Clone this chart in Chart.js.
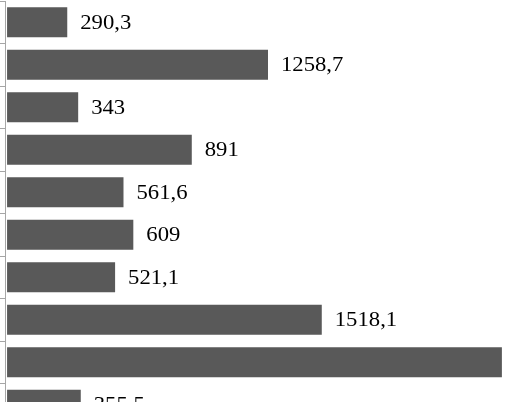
<!DOCTYPE html>
<html>
<head>
<meta charset="utf-8">
<script src="https://cdn.jsdelivr.net/npm/chart.js@4/dist/chart.umd.min.js"></script>
<style>
  html, body { margin: 0; padding: 0; background: #fff; overflow: hidden; }
  #wrap { width: 505px; height: 402px; overflow: hidden; }
</style>
</head>
<body>
<div id="wrap"><canvas id="myChart" width="505" height="426"></canvas></div>
<script>
// rows from top to bottom
const categories = ['1', '2', '3', '4', '5', '6', '7', '8', '9', '10'];
const values = [290.3, 1258.7, 343, 891, 561.6, 609, 521.1, 1518.1, 2387, 355.5];

const labelPlugin = {
    id: 'valueLabels',
    afterDatasetsDraw(chart) {
        const ctx = chart.ctx;
        const meta = chart.getDatasetMeta(0);
        ctx.save();
        ctx.fillStyle = '#000';
        ctx.font = '21px "Liberation Serif", "Times New Roman", serif';
        ctx.textBaseline = 'middle';
        meta.data.forEach((bar, i) => {
            const txt = String(values[i]).replace('.', ',');
            ctx.save();
            ctx.translate(bar.x + 13, bar.y + 1);
            ctx.scale(1.08, 1);
            ctx.fillText(txt, 0, 0);
            ctx.restore();
        });
        ctx.restore();
    }
};

const ctx = document.getElementById('myChart').getContext('2d');
new Chart(ctx, {
    type: 'bar',
    data: {
        labels: categories,
        datasets: [{
            data: values,
            backgroundColor: '#595959',
            borderWidth: 0,
            categoryPercentage: 0.707,
            barPercentage: 1
        }]
    },
    options: {
        indexAxis: 'y',
        responsive: false,
        animation: false,
        layout: { padding: { top: 1, left: 0, right: 0, bottom: 0 } },
        plugins: {
            legend: { display: false },
            tooltip: { enabled: false }
        },
        scales: {
            x: {
                display: false,
                min: -10,
                max: 2402
            },
            y: {
                offset: true,
                ticks: { display: false },
                grid: {
                    offset: true,
                    drawOnChartArea: false,
                    tickLength: 5,
                    color: '#a6a6a6'
                },
                border: { color: '#a6a6a6', width: 1 }
            }
        }
    },
    plugins: [labelPlugin]
});
</script>
</body>
</html>
